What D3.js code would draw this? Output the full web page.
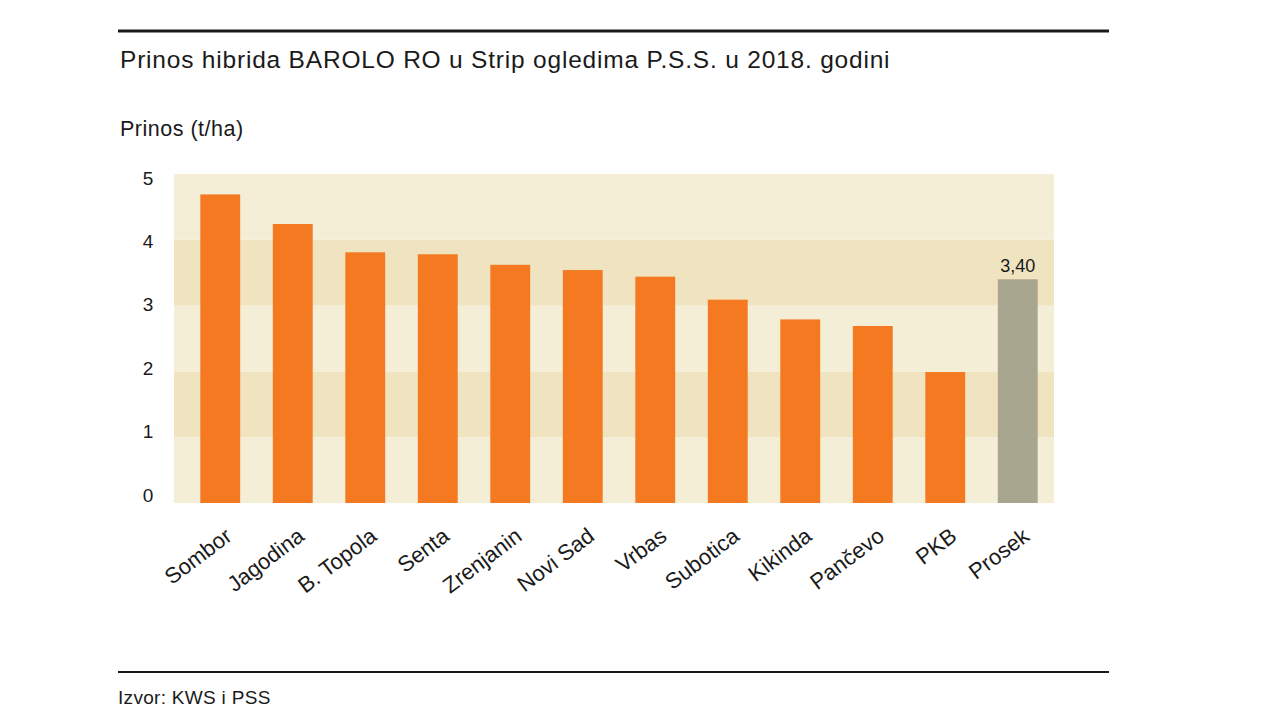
<!DOCTYPE html>
<html>
<head>
<meta charset="utf-8">
<script src="https://cdn.jsdelivr.net/npm/d3@7"></script>
<style>
  body { margin: 0; background: #fff; }
  svg { display: block; font-family: "Liberation Sans", Arial, sans-serif; }
</style>
</head>
<body>
<svg id="chart" width="1280" height="720"></svg>
<script>
// chart data
const categories = ['Sombor', 'Jagodina', 'B. Topola', 'Senta', 'Zrenjanin', 'Novi Sad',
  'Vrbas', 'Subotica', 'Kikinda', 'Pančevo', 'PKB', 'Prosek'];
const yields = [4.69, 4.24, 3.81, 3.78, 3.62, 3.54, 3.44, 3.09, 2.79, 2.69, 1.99, 3.40];
const yTicks = [0, 1, 2, 3, 4, 5];
const labelled = ['Prosek'];

const svg = d3.select('#chart');

const x = d3.scaleBand()
  .domain(categories)
  .range([184, 1054])
  .paddingInner(0.45)
  .paddingOuter(0.225);

const y = d3.scaleLinear()
  .domain([0, 5])
  .range([503, 174]);

// tick labels sit on a slightly tighter spacing than the bands
const yLab = d3.scaleLinear()
  .domain([0, 5])
  .range([495, 178]);

// top rule + title
svg.append('rect')
  .attr('x', 118).attr('y', 29.5)
  .attr('width', 991).attr('height', 3)
  .attr('fill', '#1a1a1a');

svg.append('text')
  .attr('x', 120).attr('y', 67.5)
  .style('font-size', '24.5px')
  .style('letter-spacing', '0.8px')
  .style('fill', '#1a1a1a')
  .text('Prinos hibrida BAROLO RO u Strip ogledima P.S.S. u 2018. godini');

svg.append('text')
  .attr('x', 120).attr('y', 136)
  .style('font-size', '21.5px')
  .style('letter-spacing', '0.5px')
  .style('fill', '#1a1a1a')
  .text('Prinos (t/ha)');

// background bands
const bands = d3.pairs(yTicks);
svg.append('g')
  .selectAll('rect')
  .data(bands)
  .join('rect')
  .attr('x', 174)
  .attr('width', 1054 - 174)
  .attr('y', d => y(d[1]))
  .attr('height', d => y(d[0]) - y(d[1]))
  .attr('fill', (d, i) => i % 2 === 1 ? '#f0e3c0' : '#f5eed7');

// y axis labels
const yAxis = svg.append('g')
  .attr('transform', 'translate(156,0)')
  .call(d3.axisLeft(yLab).tickValues(yTicks).tickSize(0).tickPadding(0).tickFormat(d3.format('d')));
yAxis.select('.domain').remove();
yAxis.selectAll('text')
  .attr('text-anchor', 'middle')
  .attr('x', -8)
  .style('font-family', '"Liberation Sans", Arial, sans-serif')
  .style('font-size', '19px')
  .style('fill', '#1a1a1a');

// bars
svg.append('g')
  .selectAll('rect')
  .data(categories)
  .join('rect')
  .attr('x', d => x(d))
  .attr('width', x.bandwidth())
  .attr('y', (d, i) => y(yields[i]))
  .attr('height', (d, i) => y(0) - y(yields[i]))
  .attr('fill', d => d === 'Prosek' ? '#a8a68f' : '#f47920');

// value label on average bar
const fmt = d3.format('.2f');
svg.append('g')
  .selectAll('text')
  .data(labelled)
  .join('text')
  .attr('x', d => x(d) + x.bandwidth() / 2)
  .attr('y', d => y(yields[categories.indexOf(d)]) - 7)
  .attr('text-anchor', 'middle')
  .style('font-size', '18px')
  .style('fill', '#1a1a1a')
  .text(d => fmt(yields[categories.indexOf(d)]).replace('.', ','));

// x axis labels, rotated
const xAxis = svg.append('g')
  .attr('transform', `translate(0,${y(0)})`)
  .call(d3.axisBottom(x).tickSize(0).tickPadding(0));
xAxis.select('.domain').remove();
xAxis.selectAll('text')
  .attr('text-anchor', 'end')
  .attr('y', 0)
  .attr('dy', 0)
  .attr('transform', 'translate(13,36) rotate(-37)')
  .style('font-family', '"Liberation Sans", Arial, sans-serif')
  .style('font-size', '22px')
  .style('fill', '#1a1a1a');

// bottom rule + source
svg.append('rect')
  .attr('x', 118).attr('y', 671)
  .attr('width', 991).attr('height', 2)
  .attr('fill', '#1a1a1a');

svg.append('text')
  .attr('x', 118).attr('y', 704)
  .style('font-size', '19px')
  .style('letter-spacing', '0.3px')
  .style('fill', '#1a1a1a')
  .text('Izvor: KWS i PSS');
</script>
</body>
</html>
